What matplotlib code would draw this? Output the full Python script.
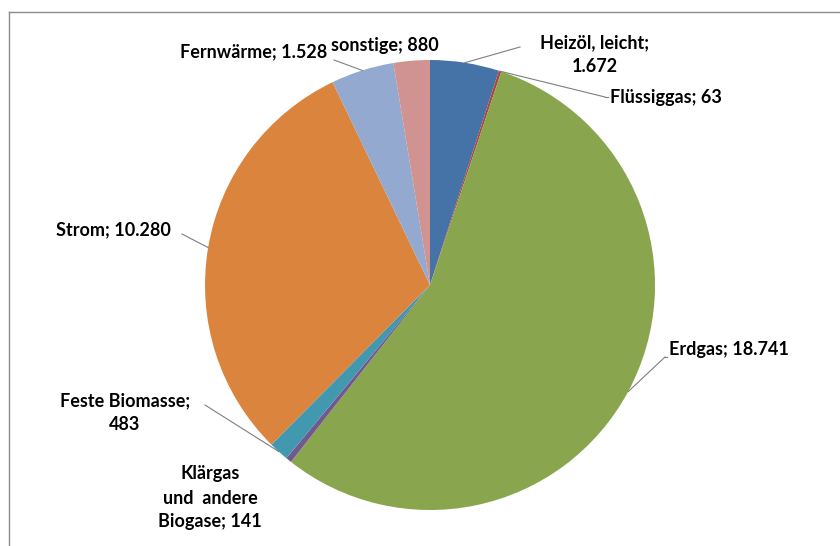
import numpy as np
import matplotlib.pyplot as plt

# data
labels = ['Heizöl, leicht;\n1.672', 'Flüssiggas; 63', 'Erdgas; 18.741',
          'Klärgas\nund  andere\nBiogase; 141', 'Feste Biomasse;\n483',
          'Strom; 10.280', 'Fernwärme; 1.528', 'sonstige; 880']
values = [1672, 63, 18741, 141, 483, 10280, 1528, 880]
colors = ['#4572A7', '#AA4643', '#89A54E', '#71588F', '#4198AF',
          '#DB843D', '#93A9CF', '#D19392']

W, H = 840, 546
fig = plt.figure(figsize=(W / 100, H / 100), dpi=100)
ax = fig.add_axes([0, 0, 1, 1])

cx, cy, r = 430, H - 285, 225
wedges, _ = ax.pie(values, colors=colors, startangle=90, counterclock=False,
                   center=(cx, cy), radius=r, frame=True,
                   wedgeprops=dict(linewidth=0))
ax.set_xlim(0, W)
ax.set_ylim(0, H)
ax.set_aspect('auto')
ax.axis('off')

# label positions in pixels (x, y from top), alignment, elbow point
lab_pos = [(595, 55, 'center', (520, 47)),
           (610, 97, 'left', (605, 97)),
           (669, 350, 'left', (665, 357)),
           (210, 498, 'center', None),
           (125, 413, 'center', (205, 405)),
           (113, 230, 'center', (182, 234)),
           (327, 52, 'right', (334, 60)),
           (331, 46, 'left', None)]

font = dict(family=['Lato', 'DejaVu Sans'], fontweight='bold', fontsize=13,
            color='#000000')
for w, lab, (x, y, ha, elbow) in zip(wedges, labels, lab_pos):
    ax.text(x, H - y, lab, ha=ha, va='center', multialignment='center',
            linespacing=1.5, **font)
    if elbow is not None:
        th = np.deg2rad((w.theta1 + w.theta2) / 2)
        px, py = cx + r * np.cos(th), cy + r * np.sin(th)
        ex, ey = elbow
        ax.plot([px, ex], [py, H - ey], color='#7f7f7f', lw=0.8)
        if ha == 'left':
            ax.plot([ex, x - 2], [H - ey, H - ey], color='#7f7f7f', lw=0.8)

# chart border
fig.add_artist(plt.Line2D([9 / W, 1], [1 - 12 / H, 1 - 12 / H],
                          transform=fig.transFigure, color='#8c8c8c', lw=1))
fig.add_artist(plt.Line2D([9 / W, 9 / W], [0, 1 - 12 / H],
                          transform=fig.transFigure, color='#8c8c8c', lw=1))

fig.savefig('out.png', dpi=100, facecolor='white')
